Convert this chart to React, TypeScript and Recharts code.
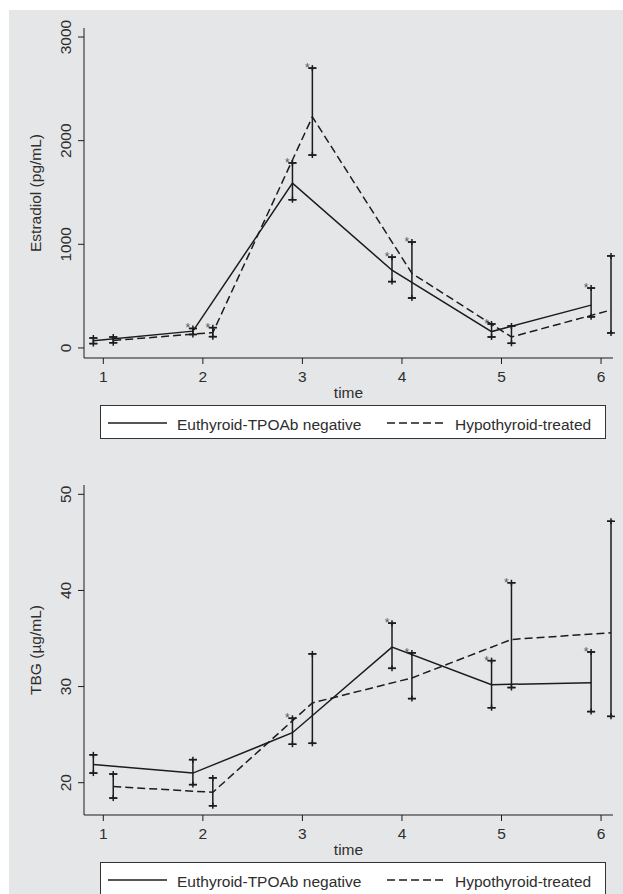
import React from "react";
import { ComposedChart, ErrorBar, Line, Scatter, XAxis, YAxis } from "recharts";

const timeTicks = [1, 2, 3, 4, 5, 6];
const euthX = [0.9, 1.9, 2.9, 3.9, 4.9, 5.9];
const hypoX = [1.1, 2.1, 3.1, 4.1, 5.1, 6.1];
const seriesNames = ["Euthyroid-TPOAb negative", "Hypothyroid-treated"];

// Estradiol (pg/mL)
const e2Ticks = [0, 1000, 2000, 3000];
const e2EuthMean = [70, 162, 1590, 750, 158, 413];
const e2EuthLow = [42, 130, 1430, 640, 106, 300];
const e2EuthHigh = [96, 188, 1785, 876, 231, 578];
const e2EuthStar = [false, true, true, true, true, true];
const e2HypoMean = [72, 148, 2230, 720, 106, 366];
const e2HypoLow = [50, 109, 1861, 482, 45, 145];
const e2HypoHigh = [106, 196, 2700, 1022, 212, 888];
const e2HypoStar = [false, true, true, true, false, false];

// TBG (µg/mL)
const tbgTicks = [20, 30, 40, 50];
const tbgEuthMean = [21.9, 21.0, 25.2, 34.1, 30.2, 30.4];
const tbgEuthLow = [21.0, 19.8, 24.0, 31.9, 27.8, 27.4];
const tbgEuthHigh = [22.9, 22.4, 26.7, 36.6, 32.7, 33.6];
const tbgEuthStar = [false, false, true, true, true, true];
const tbgHypoMean = [19.6, 19.0, 28.3, 30.9, 34.9, 35.6];
const tbgHypoLow = [18.4, 17.6, 24.1, 28.75, 29.9, 26.9];
const tbgHypoHigh = [20.9, 20.5, 33.4, 33.5, 40.8, 47.2];
const tbgHypoStar = [false, false, false, true, true, false];

const INK = "#1c1c1c";
const TXT = "#2e2e2e";
const FONT = "'Liberation Sans', Arial, sans-serif";

function rows(xs: number[], mean: number[], low: number[], high: number[], star: boolean[]) {
  return xs.map((x, i) => ({
    x,
    m: mean[i],
    err: [mean[i] - low[i], high[i] - mean[i]],
    lo: low[i],
    hi: high[i],
    star: star[i],
  }));
}

// cap ends as small "+" (spike pokes a bit past the cap, stata style)
function caps(r: ReturnType<typeof rows>) {
  return r.flatMap((d) => [
    { x: d.x, v: d.hi },
    { x: d.x, v: d.lo },
  ]);
}

const Plus = (p: any) => (
  <g stroke={INK} strokeWidth={1.5}>
    <line x1={p.cx} x2={p.cx} y1={p.cy - 3} y2={p.cy + 3} />
    <line x1={p.cx - 4} x2={p.cx + 4} y1={p.cy} y2={p.cy} />
  </g>
);

const Star = (p: any) => (
  <text x={p.cx - 5} y={p.cy + 4} fontSize={12} fill="#555" textAnchor="middle" fontFamily={FONT}>
    *
  </text>
);

const RotTick = (p: any) => (
  <text
    transform={`translate(${p.x - 7}, ${p.y}) rotate(-90)`}
    textAnchor="middle"
    dominantBaseline="central"
    fontSize={15.5}
    fill={TXT}
    fontFamily={FONT}
  >
    {p.payload.value}
  </text>
);

function Panel(props: {
  yLabel: string;
  ticks: number[];
  domain: [number, number];
  euth: ReturnType<typeof rows>;
  hypo: ReturnType<typeof rows>;
  top: number;
}) {
  const { yLabel, ticks, domain, euth, hypo, top } = props;
  return (
    <div style={{ position: "absolute", left: 0, top }}>
      <ComposedChart width={614} height={400} margin={{ top: 18, right: 10, left: 0, bottom: 0 }}>
        <XAxis
          dataKey="x"
          type="number"
          domain={[0.806, 6.12]}
          ticks={timeTicks}
          allowDataOverflow
          height={52}
          tickSize={6}
          tickMargin={7}
          stroke={INK}
          tick={{ fill: TXT, fontSize: 15.5, fontFamily: FONT }}
          label={(lp: any) => {
            const vb = lp.viewBox;
            return (
              <text x={vb.x + vb.width / 2} y={vb.y + 40} textAnchor="middle" fontSize={15.5} fill={TXT} fontFamily={FONT}>
                time
              </text>
            );
          }}
        />
        <YAxis
          type="number"
          domain={domain}
          ticks={ticks}
          allowDataOverflow
          width={75}
          tickSize={6}
          tickMargin={6}
          stroke={INK}
          tick={<RotTick />}
          label={(lp: any) => {
            const vb = lp.viewBox;
            return (
              <text
                transform={`translate(${vb.x + 26}, ${vb.y + vb.height / 2}) rotate(-90)`}
                textAnchor="middle"
                dominantBaseline="central"
                fontSize={15.5}
                fill={TXT}
                fontFamily={FONT}
              >
                {yLabel}
              </text>
            );
          }}
        />
        <Line data={euth} dataKey="m" stroke={INK} strokeWidth={1.5} dot={false} activeDot={false} isAnimationActive={false}>
          <ErrorBar dataKey="err" width={4} stroke={INK} strokeWidth={1.5} direction="y" isAnimationActive={false} />
        </Line>
        <Line
          data={hypo}
          dataKey="m"
          stroke={INK}
          strokeWidth={1.5}
          strokeDasharray="8 4"
          dot={false}
          activeDot={false}
          isAnimationActive={false}
        >
          <ErrorBar dataKey="err" width={4} stroke={INK} strokeWidth={1.5} direction="y" isAnimationActive={false} />
        </Line>
        <Scatter data={caps(euth)} dataKey="v" shape={Plus} isAnimationActive={false} />
        <Scatter data={caps(hypo)} dataKey="v" shape={Plus} isAnimationActive={false} />
        <Scatter data={euth.filter((r) => r.star)} dataKey="hi" shape={Star} isAnimationActive={false} />
        <Scatter data={hypo.filter((r) => r.star)} dataKey="hi" shape={Star} isAnimationActive={false} />
      </ComposedChart>
      <svg width={506} height={34} style={{ position: "absolute", left: 91, top: 395 }}>
        <rect x={0.5} y={0.5} width={505} height={33} fill="#fff" stroke="#333" />
        <line x1={8} x2={67} y1={18} y2={18} stroke={INK} strokeWidth={1.5} />
        <text x={77} y={25} fontSize={15.5} fill={TXT} fontFamily={FONT}>
          {seriesNames[0]}
        </text>
        <line x1={287} x2={345} y1={18} y2={18} stroke={INK} strokeWidth={1.5} strokeDasharray="8 4" />
        <text x={355} y={25} fontSize={15.5} fill={TXT} fontFamily={FONT}>
          {seriesNames[1]}
        </text>
      </svg>
    </div>
  );
}

export default function App() {
  const e2Euth = rows(euthX, e2EuthMean, e2EuthLow, e2EuthHigh, e2EuthStar);
  const e2Hypo = rows(hypoX, e2HypoMean, e2HypoLow, e2HypoHigh, e2HypoStar);
  const tbgEuth = rows(euthX, tbgEuthMean, tbgEuthLow, tbgEuthHigh, tbgEuthStar);
  const tbgHypo = rows(hypoX, tbgHypoMean, tbgHypoLow, tbgHypoHigh, tbgHypoStar);
  return (
    <div
      style={{
        position: "fixed",
        left: 9,
        top: 10,
        width: 614,
        height: 884,
        background: "#e5e6e8",
        overflow: "hidden",
        fontFamily: FONT,
      }}
    >
      <Panel yLabel="Estradiol (pg/mL)" ticks={e2Ticks} domain={[-97, 3087]} euth={e2Euth} hypo={e2Hypo} top={0} />
      <Panel yLabel="TBG (µg/mL)" ticks={tbgTicks} domain={[16.64, 50.97]} euth={tbgEuth} hypo={tbgHypo} top={457} />
    </div>
  );
}
